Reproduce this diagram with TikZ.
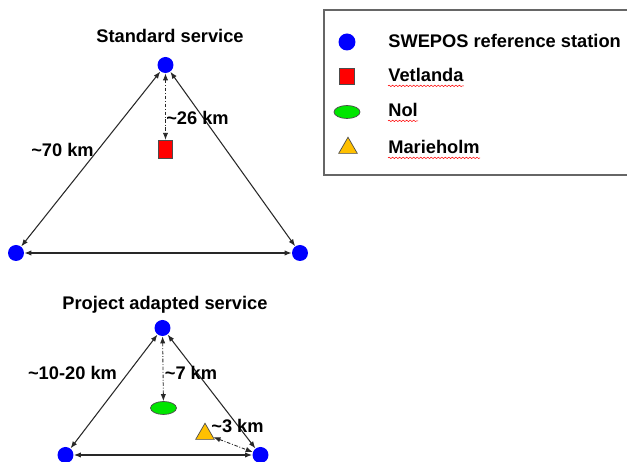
\documentclass[tikz,border=0pt]{standalone}
\usepackage{fontspec}
\setmainfont{Liberation Sans}
\usetikzlibrary{arrows.meta,shapes.geometric,decorations.pathmorphing}
\definecolor{stnblue}{RGB}{0,0,255}
\definecolor{vetred}{RGB}{255,0,0}
\definecolor{nolgreen}{RGB}{0,230,0}
\definecolor{margold}{RGB}{255,192,0}
\definecolor{linkgray}{RGB}{40,40,40}
\tikzset{
    lbl/.style={
        inner sep=0pt,font=\bfseries\fontsize{10.4}{12}\selectfont,text=black
    },
    refstn/.style={
        circle,fill=stnblue,inner sep=0pt,minimum size=0.32cm
    },
    vetbox/.style={
        rectangle,draw=black!70,fill=vetred,inner sep=0pt,
        minimum width=#1
    },
    vetbox/.default=0.28cm,
    nolell/.style={
        ellipse,draw=black!70,fill=nolgreen,inner sep=0pt,
        minimum width=0.52cm,minimum height=0.26cm
    },
    martri/.style={
        regular polygon,regular polygon sides=3,draw=black!70,
        fill=margold,inner sep=0pt,minimum size=0.43cm
    },
    link/.style={
        {Latex[length=4pt,width=3pt]}-{Latex[length=4pt,width=3pt]},
        draw=linkgray,line width=0.6pt
    },
    dlink/.style={
        {Latex[length=4pt,width=3pt]}-{Latex[length=4pt,width=3pt]},
        draw=linkgray,line width=0.5pt,
        dash pattern=on 2pt off 1pt on 0.5pt off 1pt
    },
    spell/.style={
        draw=red,line width=0.3pt,
        decorate,decoration={snake,segment length=2pt,amplitude=0.4pt}
    }
}

\begin{document}
\begin{tikzpicture}[x=0.02cm,y=-0.02cm]

\useasboundingbox (0,0) rectangle (627,462);
\fill[white] (0,0) rectangle (627,462);

% standard service
\node[lbl,anchor=base] (stdtitle) at (170,43) {Standard service};
\node[refstn] (s1t) at (165.5,65) {};
\node[refstn] (s1l) at (16,253) {};
\node[refstn] (s1r) at (300,253) {};
\node[vetbox,minimum height=0.37cm] (vet) at (165.5,149.5) {};

\draw[link] (s1t) -- (s1l);
\draw[link] (s1t) -- (s1r);
\draw[link] (s1l) -- (s1r);
\draw[dlink] (s1t) -- (vet);

\node[lbl,anchor=base] (d70) at (62.5,157) {\textasciitilde70 km};
\node[lbl,anchor=base] (d26) at (197.5,125) {\textasciitilde26 km};

% project adapted service
\node[lbl,anchor=base] (prjtitle) at (165,310) {Project adapted service};
\node[refstn] (s2t) at (162.5,328) {};
\node[refstn] (s2l) at (65.5,455) {};
\node[refstn] (s2r) at (260.5,455) {};
\node[nolell] (nol) at (163.5,408) {};
\node[martri] (mar) at (205,434) {};

\draw[link] (s2t) -- (s2l);
\draw[link] (s2t) -- (s2r);
\draw[link] (s2l) -- (s2r);
\draw[dlink] (s2t) -- (nol);
\draw[dlink] (mar) -- (s2r);

\node[lbl,anchor=base] (d1020) at (72.5,380) {\textasciitilde10-20 km};
\node[lbl,anchor=base] (d7) at (191,380) {\textasciitilde7 km};
\node[lbl,anchor=base] (d3) at (237.5,433) {\textasciitilde3 km};

% legend
\draw[black!60,line width=0.8pt] (324,10) rectangle (640,175);
\node[refstn,minimum size=0.34cm] (legstn) at (347,42) {};
\node[vetbox=0.3cm,minimum height=0.32cm] (legvet) at (347,76) {};
\node[nolell] (legnol) at (347,112) {};
\node[martri] (legmar) at (348,148) {};

\node[lbl,anchor=base west] (txtstn) at (388,48) {SWEPOS reference station};
\node[lbl,anchor=base west] (txtvet) at (388,82) {Vetlanda};
\node[lbl,anchor=base west] (txtnol) at (388,117) {Nol};
\node[lbl,anchor=base west] (txtmar) at (388,154) {Marieholm};

\draw[spell] ([yshift=-2.2pt]txtvet.base west) -- ([yshift=-2.2pt]txtvet.base east);
\draw[spell] ([yshift=-2.2pt]txtnol.base west) -- ([yshift=-2.2pt]txtnol.base east);
\draw[spell] ([yshift=-2.2pt]txtmar.base west) -- ([yshift=-2.2pt]txtmar.base east);

\end{tikzpicture}
\end{document}
